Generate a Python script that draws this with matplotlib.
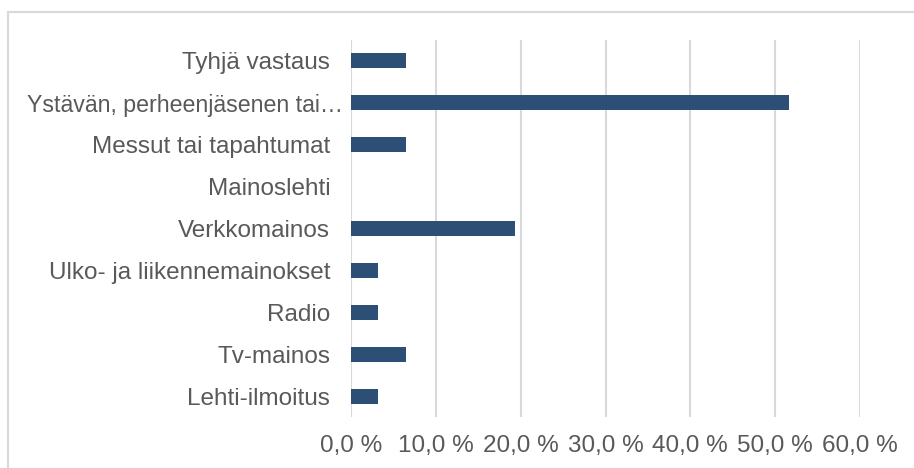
import matplotlib
matplotlib.use("Agg")
import matplotlib.pyplot as plt
from matplotlib.patches import Rectangle
from matplotlib.ticker import FuncFormatter
import matplotlib.transforms as mtransforms

plt.rcParams['font.family'] = ['Liberation Sans', 'DejaVu Sans']

categories = ["Lehti-ilmoitus", "Tv-mainos", "Radio", "Ulko- ja liikennemainokset",
              "Verkkomainos", "Mainoslehti", "Messut tai tapahtumat",
              "Ystävän, perheenjäsenen tai…", "Tyhjä vastaus"]
values = [3.2, 6.45, 3.2, 3.2, 19.35, 0.0, 6.45, 51.6, 6.45]
xticks = [0, 10, 20, 30, 40, 50, 60]

bar_color = "#2E4F75"
text_color = "#595959"
grid_color = "#D9D9D9"

fig = plt.figure(figsize=(9.14, 4.68), dpi=100)
fig.patches.append(Rectangle((8/914, -0.1), 1.2, 1 - 12/468 + 0.1,
                             transform=fig.transFigure, fill=False,
                             edgecolor=grid_color, linewidth=1.5))
ax = fig.add_axes([351/914, 1 - 417/468, (860 - 351)/914, (417 - 40)/468])

y = list(range(len(categories)))
ax.barh(y, values, height=0.36, color=bar_color, linewidth=0, zorder=3)
ax.set_xlim(0, 60)
ax.set_ylim(-0.5, len(categories) - 0.5)
ax.set_xticks(xticks)
ax.xaxis.set_major_formatter(FuncFormatter(lambda v, p: f"{v:.1f}".replace(".", ",") + " %"))
ax.set_yticks(y)
ax.set_yticklabels(categories)
ax.grid(axis="x", color=grid_color, linewidth=1.5, zorder=0)
for s in ax.spines.values():
    s.set_visible(False)
ax.tick_params(axis="both", length=0, labelsize=17.5, colors=text_color)
ax.tick_params(axis="y", pad=15)
ax.tick_params(axis="x", pad=13)

# truncated label sits closer to the axis
lab = ax.get_yticklabels()[7]
lab.set_fontsize(16.7)
lab.set_transform(lab.get_transform() + mtransforms.ScaledTranslation(13/100, 0, fig.dpi_scale_trans))

fig.savefig("out.png", dpi=100)
